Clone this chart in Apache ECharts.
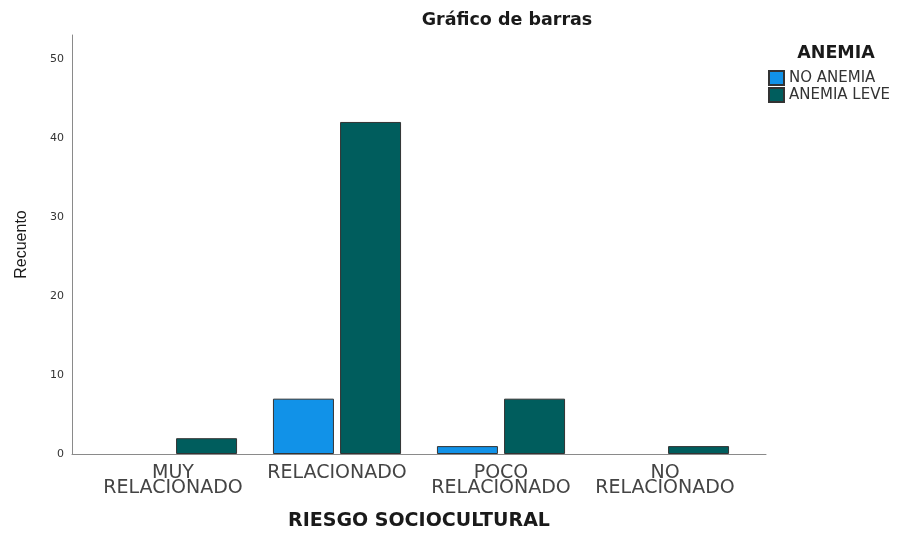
<!DOCTYPE html>
<html><head><meta charset="utf-8">
<script src="https://cdn.jsdelivr.net/npm/echarts@6/dist/echarts.min.js"></script>
<style>html,body{margin:0;padding:0;background:#fff}#c{width:903px;height:533px}</style>
</head><body><div id="c"></div>
<script>
const categories = ['MUY\nRELACIONADO', 'RELACIONADO', 'POCO\nRELACIONADO', 'NO\nRELACIONADO'];
const seriesNames = ['NO ANEMIA', 'ANEMIA LEVE'];
const noAnemia = [null, 7, 1, null];
const anemiaLeve = [2, 42, 7, 1];
const yTicks = [0, 10, 20, 30, 40, 50];
const yMax = 53;

const colors = ['#1192e8', '#005d5d'];
const wide = '"DejaVu Sans", Verdana, sans-serif';
const arial = '"Liberation Sans", Arial, sans-serif';
const chart = echarts.init(document.getElementById('c'), null, {renderer: 'canvas'});
chart.setOption({
  animation: false,
  backgroundColor: '#fff',
  graphic: [
    {type: 'text', x: 507, y: 11, style: {text: 'Gráfico de barras', font: 'bold 17.5px ' + wide, fill: '#1a1a1a', textAlign: 'center', textVerticalAlign: 'top'}},
    {type: 'text', x: 836, y: 44, style: {text: 'ANEMIA', font: 'bold 17.5px ' + wide, fill: '#1a1a1a', textAlign: 'center', textVerticalAlign: 'top'}}
  ],
  legend: {
    orient: 'vertical', left: 768, top: 70, padding: 0, itemWidth: 15, itemHeight: 14, itemGap: 1,
    icon: 'rect',
    textStyle: {fontFamily: wide, fontSize: 15, color: '#333'},
    data: seriesNames
  },
  grid: [
    {left: 91, right: 156, top: 35, bottom: 79, outerBoundsMode: 'none', containLabel: false},
    {left: 72, right: 137, top: 35, bottom: 79, outerBoundsMode: 'none', containLabel: false}
  ],
  xAxis: [
    {type: 'category', gridIndex: 0, data: categories, boundaryGap: true,
     axisLine: {show: false}, axisTick: {show: false},
     axisLabel: {interval: 0, margin: 12, fontFamily: wide, fontSize: 19, color: '#444', lineHeight: 15},
     name: 'RIESGO SOCIOCULTURAL', nameLocation: 'middle', nameGap: 58,
     nameTextStyle: {fontFamily: wide, fontSize: 19, fontWeight: 'bold', color: '#1a1a1a'}},
    {type: 'value', gridIndex: 1, min: 0, max: 1, show: true,
     axisLine: {show: true, lineStyle: {color: '#8a8a8a', width: 1}}, axisTick: {show: false},
     axisLabel: {show: false}, splitLine: {show: false}}
  ],
  yAxis: [
    {type: 'value', gridIndex: 0, min: 0, max: yMax, interval: 10, show: false, splitLine: {show: false}},
    {type: 'value', gridIndex: 1, min: 0, max: yMax, interval: 10,
     axisLine: {show: true, lineStyle: {color: '#8a8a8a', width: 1}}, axisTick: {show: false},
     splitLine: {show: false},
     axisLabel: {showMaxLabel: false, margin: 8, fontFamily: wide, fontSize: 11, color: '#333',
       formatter: v => yTicks.includes(v) ? String(v) : ''},
     name: 'Recuento', nameLocation: 'middle', nameRotate: 90, nameGap: 42,
     nameTextStyle: {fontFamily: arial, fontSize: 16, color: '#1a1a1a'}}
  ],
  series: [
    {name: seriesNames[0], type: 'bar', xAxisIndex: 0, yAxisIndex: 0, data: noAnemia,
     barWidth: 61, barGap: '10%', itemStyle: {color: colors[0], borderColor: '#333', borderWidth: 1}},
    {name: seriesNames[1], type: 'bar', xAxisIndex: 0, yAxisIndex: 0, data: anemiaLeve,
     barWidth: 61, barGap: '10%', itemStyle: {color: colors[1], borderColor: '#333', borderWidth: 1}}
  ]
});
</script></body></html>
